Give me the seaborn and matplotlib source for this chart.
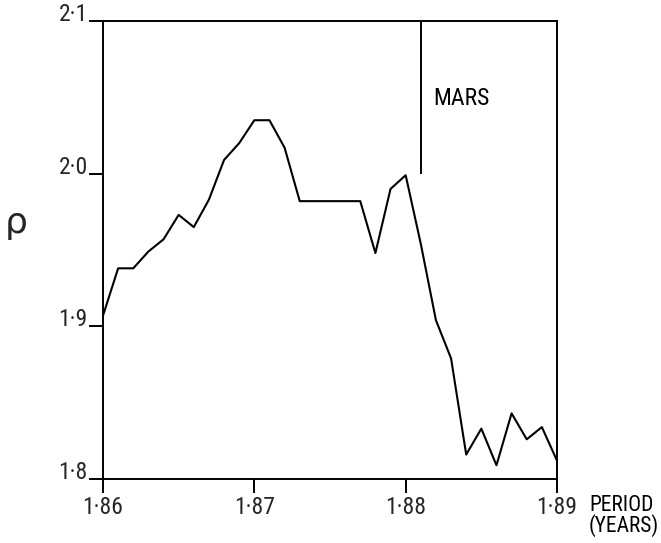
import matplotlib
matplotlib.use("Agg")
import matplotlib.pyplot as plt
from matplotlib import font_manager
import seaborn as sns
import pandas as pd

# Orbital period (years) and the corresponding rho values
period = [1.860, 1.861, 1.862, 1.863, 1.864, 1.865, 1.866, 1.867, 1.868, 1.869,
          1.870, 1.871, 1.872, 1.873, 1.874, 1.875, 1.876, 1.877, 1.878, 1.879,
          1.880, 1.881, 1.882, 1.883, 1.884, 1.885, 1.886, 1.887, 1.888, 1.889,
          1.890]
rho = [1.907, 1.938, 1.938, 1.949, 1.957, 1.973, 1.965, 1.983, 2.009, 2.020,
       2.035, 2.035, 2.017, 1.982, 1.982, 1.982, 1.982, 1.982, 1.948, 1.990,
       1.999, 1.954, 1.904, 1.879, 1.816, 1.833, 1.809, 1.843, 1.826, 1.834,
       1.812]

x_ticks = [1.86, 1.87, 1.88, 1.89]
x_tick_labels = ["1\u00b786", "1\u00b787", "1\u00b788", "1\u00b789"]
y_ticks = [1.8, 1.9, 2.0, 2.1]
y_tick_labels = ["1\u00b78", "1\u00b79", "2\u00b70", "2\u00b71"]

# Mars resonance marker
mars_period = 1.881
mars_rho_span = [2.0, 2.1]

df = pd.DataFrame({"period": period, "rho": rho})


def first_installed(candidates):
    for name in candidates:
        try:
            font_manager.findfont(font_manager.FontProperties(family=name),
                                  fallback_to_default=False)
            return name
        except ValueError:
            continue
    return "DejaVu Sans"


label_font = first_installed(["Liberation Sans Narrow", "DejaVu Sans Condensed",
                              "Roboto Condensed", "Open Sans Condensed",
                              "Liberation Sans"])

sns.set_theme(style="white")
plt.rcParams["font.family"] = [label_font, "DejaVu Sans"]

fig = plt.figure(figsize=(6.61, 5.43), dpi=100)
ax = fig.add_axes([103 / 661, 1 - 479 / 543, 454 / 661, 458 / 543])

sns.lineplot(data=df, x="period", y="rho", ax=ax, color="black",
             linewidth=1.5, estimator=None, sort=False)

ax.vlines(mars_period, mars_rho_span[0], mars_rho_span[1], color="black", linewidth=1.4)
ax.text(mars_period + 0.0008, 2.0495, "MARS", ha="left", va="center",
        fontsize=17, color="black")

ax.set_xlim(x_ticks[0], x_ticks[-1])
ax.set_ylim(y_ticks[0], y_ticks[-1])
ax.set_xticks(x_ticks)
ax.set_xticklabels(x_tick_labels)
ax.set_yticks(y_ticks)
ax.set_yticklabels(y_tick_labels)

for side in ["left", "right", "top", "bottom"]:
    ax.spines[side].set_visible(True)
    ax.spines[side].set_color("black")
    ax.spines[side].set_linewidth(1.4)

ax.tick_params(axis="x", direction="out", length=10, width=1.4, color="black",
               pad=2, labelsize=17, bottom=True)
ax.tick_params(axis="y", direction="out", length=10, width=1.4, color="black",
               pad=1, labelsize=17, left=True)
for lbl in ax.get_yticklabels():
    lbl.set_verticalalignment("baseline")

ax.set_xlabel("")
ax.set_ylabel("\u03c1", rotation=0, fontsize=26, family=["DejaVu Sans"],
              va="center", ha="center")
ax.yaxis.set_label_coords(-0.192, 0.56)

ax.text(1.0705, -0.035, "PERIOD\n(YEARS)", transform=ax.transAxes,
        ha="left", va="top", fontsize=15.5, linespacing=0.9, color="black")

fig.savefig("out.png", dpi=100, facecolor="white")
